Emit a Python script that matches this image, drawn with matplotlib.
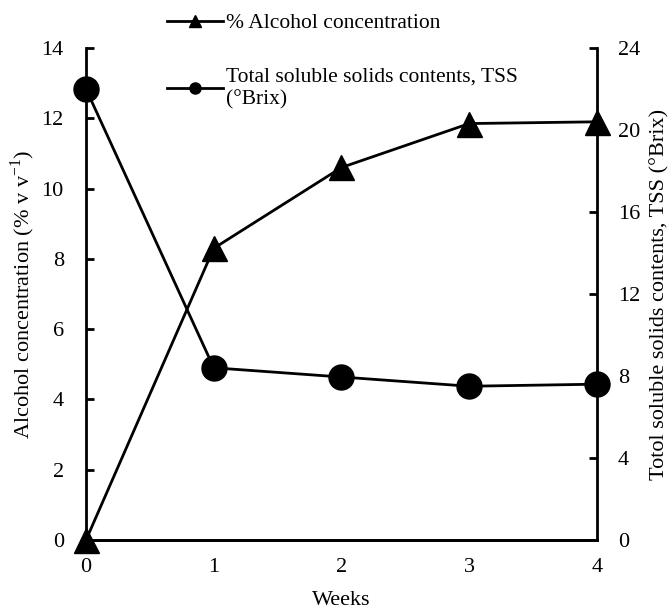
import matplotlib.pyplot as plt
from matplotlib.lines import Line2D

plt.rcParams['font.family'] = ['Liberation Serif', 'DejaVu Serif']
plt.rcParams['mathtext.fontset'] = 'custom'
plt.rcParams['mathtext.rm'] = 'Liberation Serif'

weeks = [0, 1, 2, 3, 4]
alcohol = [0, 8.3, 10.6, 11.85, 11.9]
tss = [22.0, 8.4, 7.95, 7.5, 7.6]

fig = plt.figure(figsize=(6.7, 6.1), dpi=100)
ax = fig.add_axes([0.1284, 0.1148, 0.7626, 0.8065])
ax2 = ax.twinx()

ax.plot(weeks, alcohol, color='black', lw=2, marker='^', markersize=18, clip_on=False, zorder=3)
ax2.plot(weeks, tss, color='black', lw=2, marker='o', markersize=18, clip_on=False, zorder=3)

ax.set_xlim(0, 4)
ax.set_ylim(0, 14)
ax2.set_ylim(0, 24)
ax.set_xticks(weeks)
ax.set_yticks(range(0, 15, 2))
ax2.set_yticks(range(0, 25, 4))

for a in (ax, ax2):
    a.spines['top'].set_visible(False)
    for s in a.spines.values():
        s.set_linewidth(2)
ax.spines['right'].set_visible(False)
ax2.spines['left'].set_visible(False)

ax.tick_params(axis='y', direction='in', length=6, width=2, labelsize=16, pad=16)
ax2.tick_params(axis='y', direction='in', length=6, width=2, labelsize=16, pad=15)
ax.tick_params(axis='x', length=0, labelsize=16, pad=13)

ax.set_xlabel('Weeks', fontsize=16, labelpad=10)
ax.set_ylabel('Alcohol concentration (% v v$^{\\mathrm{-1}}$)', fontsize=16, labelpad=3)
ax2.set_ylabel('Totol soluble solids contents, TSS (°Brix)', fontsize=16, labelpad=7)

handles = [
    Line2D([], [], color='black', lw=2, marker='^', markersize=8),
    Line2D([], [], color='black', lw=2, marker='o', markersize=8),
]
labels = ['% Alcohol concentration', 'Total soluble solids contents, TSS\n(°Brix)']
fig.legend(handles, labels, loc='upper left', bbox_to_anchor=(0.22, 1.01),
           frameon=False, fontsize=15.5, handlelength=2.6, handletextpad=0.15,
           labelspacing=1.6)

fig.savefig('out.png', dpi=100)
